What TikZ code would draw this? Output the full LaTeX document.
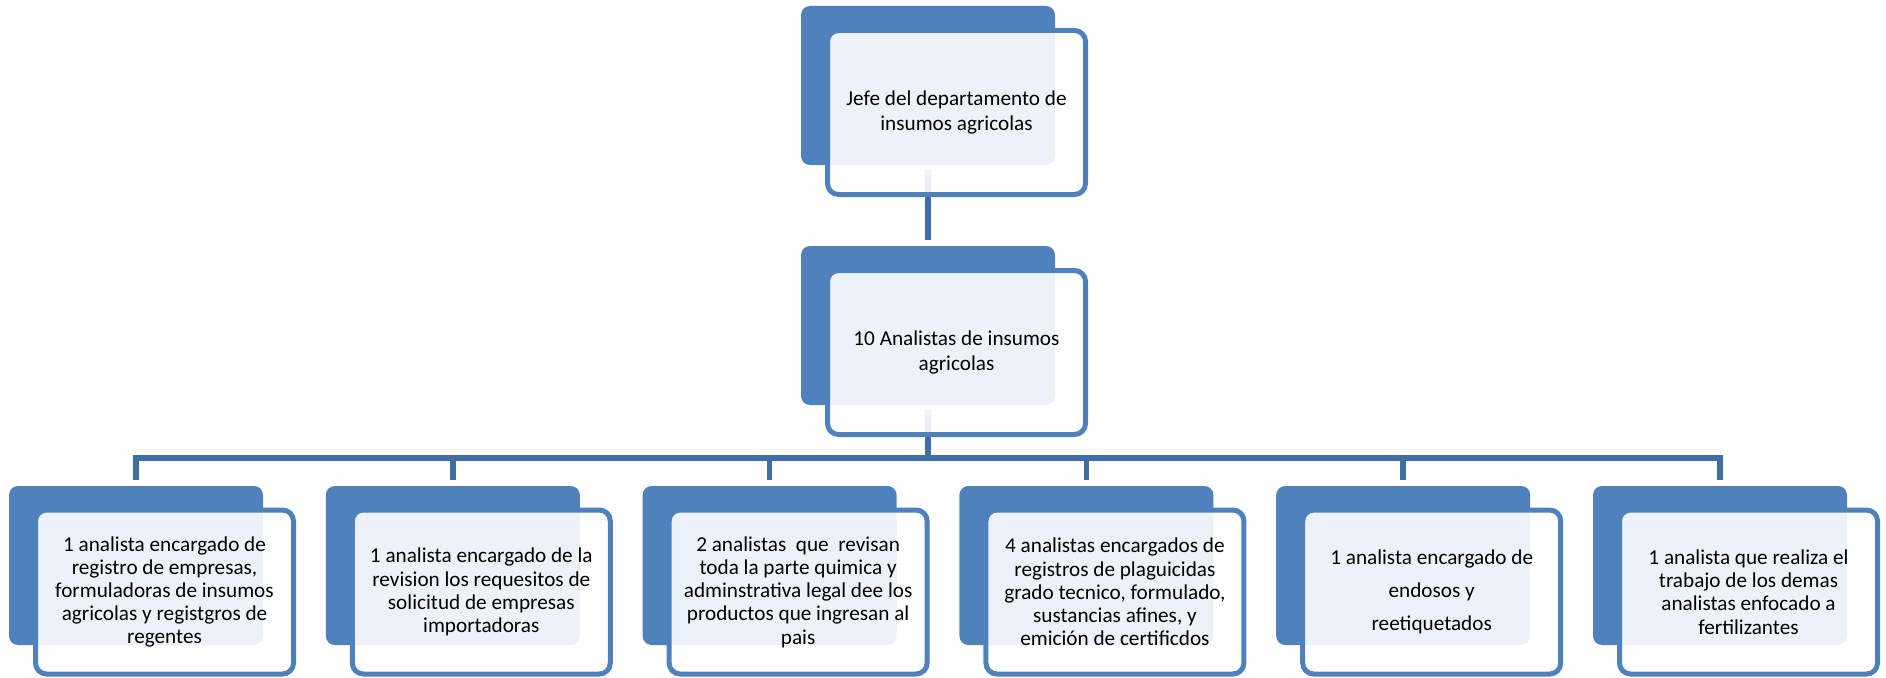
\documentclass[tikz,border=0pt]{standalone}
\usepackage{fontspec}
\setmainfont{Carlito}
\usetikzlibrary{calc}
\definecolor{backblue}{HTML}{4F81BD}
\definecolor{frontblue}{HTML}{4F81BD}
\definecolor{connblue}{HTML}{3F6FA5}
\tikzset{
  backbox/.style={fill=backblue, draw=none, rounded corners=9pt, minimum width=254pt, minimum height=159pt, inner sep=0pt},
  frontbox/.style={fill=white, fill opacity=0.9, text opacity=1, draw=frontblue, draw opacity=1, line width=5pt, rounded corners=11pt, minimum width=258pt, minimum height=164pt, inner sep=0pt, align=center, text=black},
  toptext/.style={font=\fontsize{21.2}{25}\selectfont},
  childtext/.style={font=\fontsize{21.2}{23.2}\selectfont},
  widetext/.style={font=\fontsize{21.2}{33}\selectfont},
  conn/.style={draw=connblue, line width=5.5pt}
}
\begin{document}
\begin{tikzpicture}[x=1pt,y=-1pt]
\useasboundingbox (0,0) rectangle (1886,677);
% back boxes
\node[backbox] (tb) at (928,85.5) {};
\node[backbox] (mb) at (928,325.5) {};
\foreach \i in {1,...,6}{
  \node[backbox] (c\i b) at ({136+316.8*(\i-1)},565.5) {};
}
% connectors
\coordinate (bus) at (928,458);
\draw[conn, shorten <=5pt, shorten >=6pt] (tb.south) -- (mb.north);
\draw[conn, shorten <=5pt] (mb.south) -- (bus);
\draw[conn, line cap=rect] (bus -| c1b.north) -- (bus -| c6b.north);
\foreach \i in {1,...,6}{
  \draw[conn, shorten >=6pt] (bus -| c\i b.north) -- (c\i b.north);
}
% front boxes
\node[frontbox, toptext] (tf) at (956.5,112.5) {Jefe del departamento de\\insumos agricolas};
\node[frontbox, toptext] (mf) at (956.5,352.5) {10 Analistas de insumos\\agricolas};
\node[frontbox, childtext] (c1f) at ($(c1b)+(28.5,26.5)$) {1 analista encargado de\\registro de empresas,\\formuladoras de insumos\\agricolas y registgros de\\regentes};
\node[frontbox, childtext] (c2f) at ($(c2b)+(28.5,26.5)$) {1 analista encargado de la\\revision los requesitos de\\solicitud de empresas\\importadoras};
\node[frontbox, childtext] (c3f) at ($(c3b)+(28.5,26.5)$) {2 analistas\ \ que\ \ revisan\\toda la parte quimica y\\adminstrativa legal dee los\\productos que ingresan al\\pais};
\node[frontbox, childtext] (c4f) at ($(c4b)+(28.5,26.5)$) {4 analistas encargados de\\registros de plaguicidas\\grado tecnico, formulado,\\sustancias afines, y\\emición de certificdos};
\node[frontbox, widetext] (c5f) at ($(c5b)+(28.5,26.5)$) {1 analista encargado de\\endosos y\\reetiquetados};
\node[frontbox, childtext] (c6f) at ($(c6b)+(28.5,26.5)$) {1 analista que realiza el\\trabajo de los demas\\analistas enfocado a\\fertilizantes};
\end{tikzpicture}
\end{document}
